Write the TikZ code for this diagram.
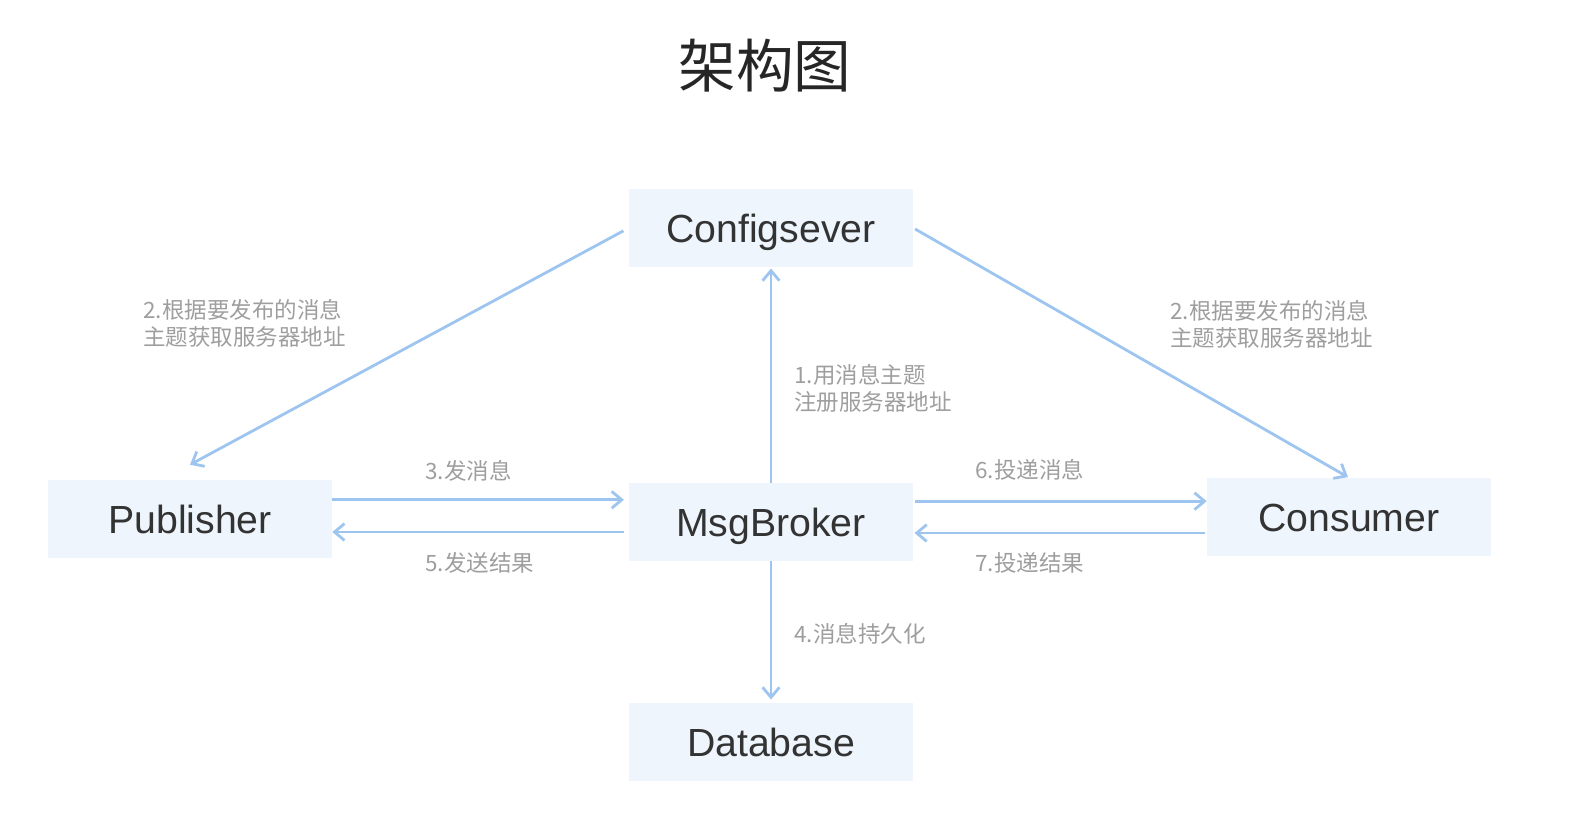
\documentclass[tikz,border=0pt]{standalone}
\usepackage{fontspec}
\usetikzlibrary{arrows.meta}
\newfontfamily\cjk{Noto Sans CJK SC}
\newfontfamily\boxfont{Liberation Sans}
\definecolor{boxblue}{HTML}{EEF5FD}
\definecolor{lineblue}{HTML}{9EC4F0}
\definecolor{textdark}{HTML}{333333}
\definecolor{labelgray}{HTML}{9E9E9E}

\begin{document}
\begin{tikzpicture}[x=0.025cm, y=-0.025cm,
  box/.style={fill=boxblue, minimum width=7.1cm, minimum height=1.95cm, inner sep=0pt,
    text height=20pt, text depth=0pt, text=textdark, font=\boxfont\fontsize{27.9}{33}\selectfont},
  flow/.style={-{Straight Barb[length=0.25cm,width=0.42cm]}, line width=2pt, draw=lineblue},
  note/.style={anchor=west, align=left, inner sep=0pt, text=labelgray, font=\cjk\fontsize{16}{19.2}\selectfont}]
\useasboundingbox (0,0) rectangle (1570,834);

% Title
\node[text=black!85, font=\cjk\fontsize{41}{48}\selectfont] (title) at (765,66) {架构图};

% Boxes
\node[box] (cfg) at (771,228) {Configsever};
\node[box] (pub) at (190,519) {Publisher};
\node[box] (mb)  at (771,522) {MsgBroker};
\node[box] (con) at (1349,517) {Consumer};
\node[box] (db)  at (771,742) {Database};

% Arrows
\draw[flow, shorten <=0.15cm] (cfg.west) -- ([yshift=0.375cm]pub.north);
\draw[flow, shorten <=0.05cm, shorten >=0.03cm] (cfg.east) -- (con.north);
\draw[flow, shorten >=0.03cm] (mb.north) -- (cfg.south);
\draw[flow, shorten >=0.08cm] (mb.south) -- (db.north);
\draw[flow, shorten >=0.12cm] ([yshift=0.48cm]pub.east) -- ([yshift=0.48cm]pub.east -| mb.west);
\draw[flow, shorten <=0.12cm] ([yshift=-0.25cm]mb.west) -- ([yshift=-0.25cm]mb.west -| pub.east);
\draw[flow, shorten <=0.05cm] ([yshift=0.52cm]mb.east) -- ([yshift=0.52cm]mb.east -| con.west);
\draw[flow, shorten <=0.05cm, shorten >=0.03cm] ([yshift=-0.4cm]con.west) -- ([yshift=-0.4cm]con.west -| mb.east);

% Labels
\node[note] (l2a) at (143,323) {2.根据要发布的消息\\主题获取服务器地址};
\node[note] (l2b) at (1170,324) {2.根据要发布的消息\\主题获取服务器地址};
\node[note] (l1)  at (794,388) {1.用消息主题\\注册服务器地址};
\node[note] (l3)  at (425,471) {3.发消息};
\node[note] (l5)  at (425,563) {5.发送结果};
\node[note] (l6)  at (975,470) {6.投递消息};
\node[note] (l7)  at (975,563) {7.投递结果};
\node[note] (l4)  at (794,634) {4.消息持久化};
\end{tikzpicture}
\end{document}
